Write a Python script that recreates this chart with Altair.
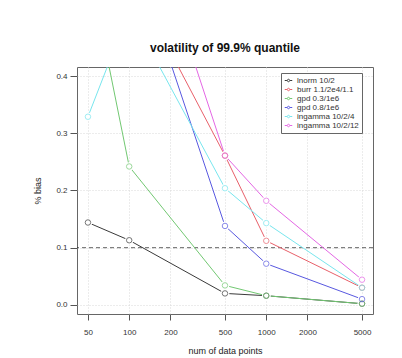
import altair as alt
import pandas as pd

n_points = [50, 100, 500, 1000, 5000]
series_names = ["lnorm 10/2", "burr 1.1/2e4/1.1", "gpd 0.3/1e6", "gpd 0.8/1e6",
                "ingamma 10/2/4", "ingamma 10/2/12"]
series_colors = ["#3a3a3a", "#e8606a", "#72c872", "#5858e0", "#78e6ee", "#e466e4"]
lnorm = [0.144, 0.113, 0.020, 0.016, 0.002]
burr = [0.85, 0.58, 0.261, 0.112, 0.030]
gpd03 = [0.60, 0.242, 0.034, 0.016, 0.002]
gpd08 = [0.95, 0.64, 0.138, 0.072, 0.010]
ing4 = [0.329, 0.515, 0.204, 0.143, 0.030]
ing12 = [1.1, 0.77, 0.261, 0.182, 0.044]
x_ticks = [50, 100, 200, 500, 1000, 2000, 5000]
y_ticks = [0.0, 0.1, 0.2, 0.3, 0.4]
ref_level = [0.1]

rows = []
for name, vals in zip(series_names, [lnorm, burr, gpd03, gpd08, ing4, ing12]):
    for n, v in zip(n_points, vals):
        rows.append({"n": n, "bias": v, "series": name})
df = pd.DataFrame(rows)

FONT = "Liberation Sans"
xscale = alt.Scale(type="log", domain=[41.6, 6012], nice=False)
yscale = alt.Scale(domain=[-0.016, 0.416], nice=False, zero=False)
cscale = alt.Scale(domain=series_names, range=series_colors)

x_enc = alt.X("n:Q", scale=xscale,
              axis=alt.Axis(values=x_ticks, format="d", title="num of data points",
                            tickSize=6, labelPadding=8, titlePadding=10,
                            domain=False, grid=True, gridDash=[1, 2],
                            gridColor="#d8d8d8", labelFlush=False))
y_enc = alt.Y("bias:Q", scale=yscale,
              axis=alt.Axis(values=y_ticks, format=".1f", title="% bias",
                            tickSize=7, labelPadding=3, titlePadding=13,
                            domain=False, grid=True, gridDash=[1, 2],
                            gridColor="#d8d8d8", labelAngle=0))

legend_symbol = "M-1,0H-0.42M0.42,0H1M0.33,0A0.33,0.33,0,1,1,-0.33,0A0.33,0.33,0,1,1,0.33,0"

base = alt.Chart(df)
lines = base.mark_line(strokeWidth=1, clip=True).encode(
    x=x_enc, y=y_enc,
    color=alt.Color("series:N", scale=cscale, sort=series_names,
                    legend=alt.Legend(title=None, orient="none", legendX=204, legendY=6,
                                      symbolType=legend_symbol, symbolSize=56,
                                      symbolStrokeWidth=1, symbolFillColor="transparent",
                                      labelFont=FONT, labelFontSize=8, labelColor="#333",
                                      rowPadding=0, labelOffset=4,
                                      strokeColor="#666", fillColor="white",
                                      padding=3, labelLimit=200)),
)
gaps = base.mark_point(filled=True, fill="white", strokeOpacity=0, size=75,
                       opacity=1, clip=True).encode(
    x="n:Q", y="bias:Q")
pts = base.mark_point(filled=False, size=30, strokeWidth=1, clip=True).encode(
    x="n:Q", y="bias:Q",
    color=alt.Color("series:N", scale=cscale, legend=None),
)
ref = alt.Chart(pd.DataFrame({"level": ref_level})).mark_rule(
    color="#222", strokeDash=[4, 3], strokeWidth=0.7).encode(y="level:Q")

chart = alt.layer(ref, lines, gaps, pts).properties(
    width=296, height=247,
    title=alt.TitleParams("volatility of 99.9% quantile", font=FONT, fontSize=12,
                          fontWeight="bold", color="#111", offset=12, anchor="middle"),
    padding={"left": 69, "top": 59, "right": 21, "bottom": 42},
    autosize=alt.AutoSizeParams(type="none"),
    background="white",
).configure_view(stroke="#666", strokeWidth=1).configure_axis(
    labelFont=FONT, titleFont=FONT, labelFontSize=8, titleFontSize=9,
    labelColor="#333", titleColor="#222", tickColor="#555", titleFontWeight="normal",
)

chart.save("out.html", embed_options={"renderer": "svg", "actions": False})
